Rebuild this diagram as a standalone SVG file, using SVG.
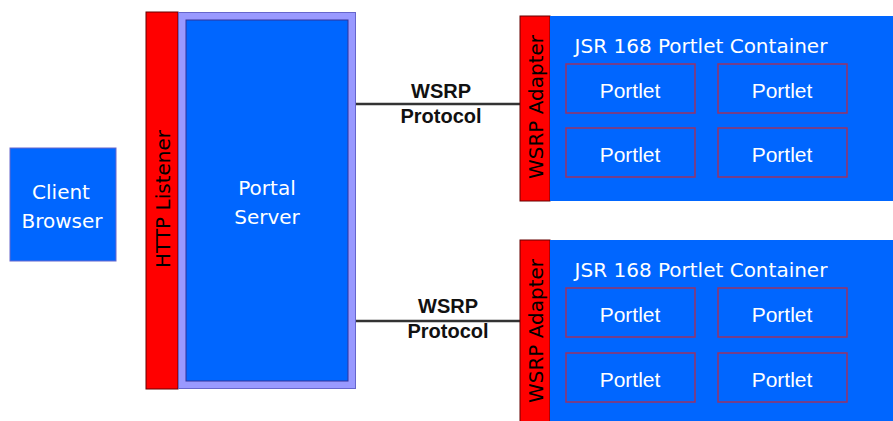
<svg xmlns="http://www.w3.org/2000/svg" width="893" height="421" viewBox="0 0 893 421">
<style>
.blue{fill:#0066ff}
.red{fill:#ff0000;stroke:#660000;stroke-width:1}
.wt{font-family:"DejaVu Sans",Verdana,sans-serif;font-size:20px;fill:#ffffff;text-anchor:middle}
.bt{font-family:"DejaVu Sans",Verdana,sans-serif;font-size:20px;fill:#000000;text-anchor:middle}
.pt{font-family:"Liberation Sans",Arial,sans-serif;font-size:21px;fill:#ffffff;text-anchor:middle}
.lbl{font-family:"Liberation Sans",Arial,sans-serif;font-size:20px;font-weight:bold;fill:#111111;text-anchor:middle}
.portlet{fill:#0066ff;stroke:#993366;stroke-width:1.5}
.conn{stroke:#333333;stroke-width:2.5;fill:none}
</style>
<rect width="893" height="421" fill="#ffffff"/>
<g id="client-browser">
<rect x="10" y="148" width="106" height="113" class="blue" stroke="#6666cc" stroke-width="1"/>
<text x="61" y="199" class="wt" font-size="21">Client</text>
<text x="62" y="228" class="wt" font-size="21">Browser</text>
</g>
<g id="http-listener">
<rect x="146" y="12" width="32" height="377" class="red"/>
<text transform="translate(170,199) rotate(-90)" x="0" y="0" class="bt" font-size="21">HTTP Listener</text>
</g>
<g id="portal-server">
<rect x="178.5" y="12.5" width="177" height="376" fill="#9999ff" stroke="#6666cc" stroke-width="1"/>
<rect x="186" y="20" width="162" height="361" class="blue" stroke="#333399" stroke-width="1"/>
<text x="267" y="195" class="wt" font-size="21">Portal</text>
<text x="267" y="224" class="wt" font-size="21">Server</text>
</g>
<g id="connectors">
<line x1="356" y1="104" x2="520" y2="104" class="conn"/>
<line x1="356" y1="321" x2="520" y2="321" class="conn"/>
<text x="441" y="98" class="lbl">WSRP</text>
<text x="441" y="123" class="lbl">Protocol</text>
<text x="448" y="313" class="lbl">WSRP</text>
<text x="448" y="338" class="lbl">Protocol</text>
</g>
<g id="container-top">
<rect x="520" y="16" width="30" height="185" class="red"/>
<rect x="550" y="16" width="343" height="185" class="blue"/>
<text transform="translate(543,107) rotate(-90)" class="bt">WSRP Adapter</text>
<text x="701" y="53" class="wt">JSR 168 Portlet Container</text>
<rect x="566" y="64" width="129" height="49" class="portlet"/>
<text x="630" y="98" class="pt">Portlet</text>
<rect x="718" y="64" width="129" height="49" class="portlet"/>
<text x="782" y="98" class="pt">Portlet</text>
<rect x="566" y="128" width="129" height="49" class="portlet"/>
<text x="630" y="162" class="pt">Portlet</text>
<rect x="718" y="128" width="129" height="49" class="portlet"/>
<text x="782" y="162" class="pt">Portlet</text>
</g>
<g id="container-bottom">
<rect x="520" y="240" width="30" height="182" class="red"/>
<rect x="550" y="240" width="343" height="182" class="blue"/>
<text transform="translate(543,331) rotate(-90)" class="bt">WSRP Adapter</text>
<text x="701" y="277" class="wt">JSR 168 Portlet Container</text>
<rect x="566" y="288" width="129" height="49" class="portlet"/>
<text x="630" y="322" class="pt">Portlet</text>
<rect x="718" y="288" width="129" height="49" class="portlet"/>
<text x="782" y="322" class="pt">Portlet</text>
<rect x="566" y="353" width="129" height="49" class="portlet"/>
<text x="630" y="387" class="pt">Portlet</text>
<rect x="718" y="353" width="129" height="49" class="portlet"/>
<text x="782" y="387" class="pt">Portlet</text>
</g>
</svg>
